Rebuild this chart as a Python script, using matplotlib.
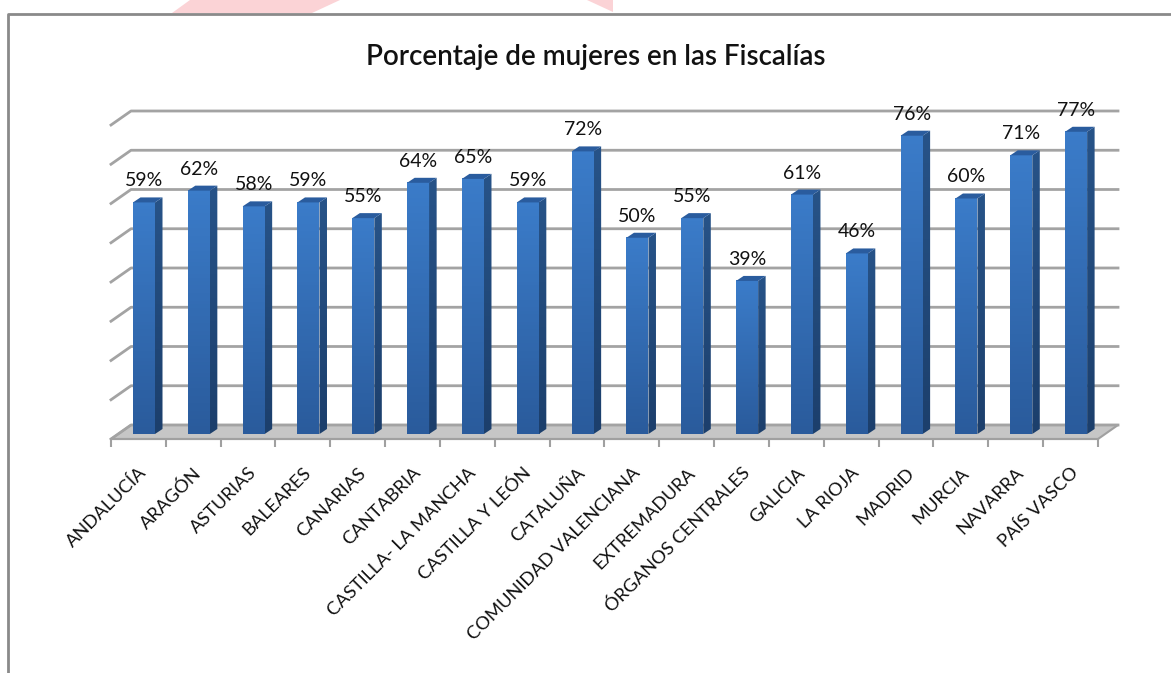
import numpy as np
import matplotlib
matplotlib.use('Agg')
import matplotlib.pyplot as plt
from matplotlib.lines import Line2D
from matplotlib.patches import Polygon

regions = ['ANDALUCÍA', 'ARAGÓN', 'ASTURIAS', 'BALEARES', 'CANARIAS', 'CANTABRIA',
           'CASTILLA- LA MANCHA', 'CASTILLA Y LEÓN', 'CATALUÑA', 'COMUNIDAD VALENCIANA',
           'EXTREMADURA', 'ÓRGANOS CENTRALES', 'GALICIA', 'LA RIOJA', 'MADRID',
           'MURCIA', 'NAVARRA', 'PAÍS VASCO']
percent = [59, 62, 58, 59, 55, 64, 65, 59, 72, 50, 55, 39, 61, 46, 76, 60, 71, 77]
grid_values = [0, 10, 20, 30, 40, 50, 60, 70, 80]
title = 'Porcentaje de mujeres en las Fiscalías'

W, H = 1171, 673
STEP = 54.83
PX_PER_PCT = 3.925

plt.rcParams['font.family'] = ['Lato', 'DejaVu Sans']

fig = plt.figure(figsize=(W / 100, H / 100), dpi=100)


def fig_xy(x, y):
    return x / W, 1 - y / H


# decoration of the pasted screenshot: pink shapes and frame
fig.add_artist(Polygon([fig_xy(172, 13), fig_xy(190, 0), fig_xy(340, 0), fig_xy(312, 13)],
                       transform=fig.transFigure, color='#fbd3d6', lw=0))
fig.add_artist(Polygon([fig_xy(587, 0), fig_xy(613, 12), fig_xy(613, 0)],
                       transform=fig.transFigure, color='#fbd3d6', lw=0))
fig.add_artist(Line2D([8 / W, 8 / W, 1], [0, 1 - 14 / H, 1 - 14 / H],
                      transform=fig.transFigure, color='#8a8a8a', lw=2))

ax = fig.add_axes([111 / W, 1 - 434 / H, (1098 - 111) / W, (434 - 120) / H])
x_lo, x_hi = (111 - 144) / STEP, (1098 - 144) / STEP
px_x = 1 / STEP
px_y = 1 / PX_PER_PCT
half = 11 * px_x
side_x, side_y = 7.5 * px_x, 5 * px_y
wall_x, wall_y = 20 * px_x, 9 * px_y
front_y = -5 * px_y

grad = np.linspace(0, 1, 64).reshape(-1, 1)
front_cmap = matplotlib.colors.LinearSegmentedColormap.from_list('f', ['#3b7cc9', '#2a5b9c'])
side_cmap = matplotlib.colors.LinearSegmentedColormap.from_list('s', ['#275388', '#1c3f6c'])

# floor
floor = [(x_lo, front_y), (x_lo + wall_x, wall_y), (x_hi + wall_x, wall_y), (x_hi, front_y)]
ax.add_patch(Polygon(floor, facecolor='#c6c6c6', edgecolor='#a0a0a0', lw=1.5, clip_on=False, zorder=1))

# back wall lines
for g in grid_values:
    ax.plot([x_lo, x_lo + wall_x, x_hi + wall_x],
            [g + front_y, g + wall_y, g + wall_y],
            color='#a3a3a3', lw=2, clip_on=False, zorder=1.5)

# bars
for i, v in enumerate(percent):
    l, r = i - half, i + half
    ax.imshow(grad, extent=(l, r, 0, v), cmap=front_cmap, aspect='auto', zorder=3)
    im = ax.imshow(grad, extent=(r, r + side_x, 0, v + side_y), cmap=side_cmap, aspect='auto', zorder=3)
    clip = Polygon([(r, 0), (r + side_x, side_y), (r + side_x, v + side_y), (r, v)],
                   transform=ax.transData, fill=False, lw=0)
    ax.add_patch(clip)
    im.set_clip_path(clip)
    ax.add_patch(Polygon([(l, v), (l + side_x, v + side_y), (r + side_x, v + side_y), (r, v)],
                         facecolor='#2a5c9e', lw=0, zorder=3))
    ax.annotate(f'{v}%', (i, v), xytext=(0, 15.5), textcoords='offset points',
                ha='center', va='center', fontsize=14, color='#111111', zorder=4)

ax.set_xlim(x_lo, x_hi)
ax.set_ylim(0, 80)

for s in ['left', 'right', 'top']:
    ax.spines[s].set_visible(False)
ax.spines['bottom'].set_position(('outward', 3.6))
ax.spines['bottom'].set_color('#a0a0a0')
ax.spines['bottom'].set_linewidth(1.5)
ax.set_yticks([])
ax.set_xticks(np.arange(len(regions)) - 0.1)
ax.set_xticklabels(regions, rotation=45, ha='right', va='top', rotation_mode='anchor', fontsize=13.2, color='#111111')
ax.set_xticks(np.arange(len(regions) + 1) + x_lo, minor=True)
ax.tick_params(axis='x', which='major', length=0, pad=18.5)
ax.tick_params(axis='x', which='minor', length=5.5, width=1.5, color='#a0a0a0')
ax.patch.set_visible(False)

fig.text(595.5 / W, 1 - 56.5 / H, title, ha='center', va='center', fontsize=20, fontweight='semibold', color='#111111')

fig.savefig('out.png', dpi=100)
